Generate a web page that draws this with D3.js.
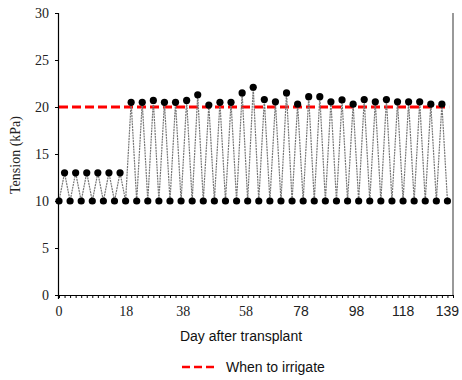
<!DOCTYPE html>
<html><head><meta charset="utf-8">
<script src="https://cdn.jsdelivr.net/npm/d3@7/dist/d3.min.js"></script>
<style>body{margin:0;background:#fff}svg{display:block}</style>
</head><body>
<svg id="c" width="462" height="380"></svg>
<script>
// Data: tension readings (kPa), one per observation (index order)
const tension = [
  10,13,10,13,10,13,10,13,10,13,10,13,10,
  20.5,10,20.5,10,20.7,10,20.5,10,20.5,10,20.7,10,21.3,10,20.2,10,20.5,10,20.5,10,21.5,10,22.1,10,
  20.8,10,20.55,10,21.5,10,20.3,10,21.1,10,21.1,10,20.55,10,20.75,10,20.3,10,20.8,10,20.55,10,20.8,10,20.55,10,20.55,10,20.55,10,20.3,10,20.3,10
];
const threshold = 20;
const xTickPos = [0, 12.1, 22.4, 33.7, 43.6, 53.6, 62, 70];
const xTickLabels = ["0","18","38","58","78","98","118","139"];
const yTicks = [0,5,10,15,20,25,30];
const legendLabel = "When to irrigate";
const xTitle = "Day after transplant";
const yTitle = "Tension (kPa)";

const svg = d3.select("#c");
const m = {l:59, t:13, r:9, b:85};
const W = 462 - m.l - m.r, H = 380 - m.t - m.b;
const g = svg.append("g").attr("transform", `translate(${m.l},${m.t})`);

const x = d3.scaleLinear().domain([0, 71]).range([0, W]);
const y = d3.scaleLinear().domain([0, 30]).range([H, 0]);

// right border
g.append("line").attr("x1", W).attr("x2", W).attr("y1", 0).attr("y2", H)
  .attr("stroke", "#777").attr("stroke-width", 1.5);

// threshold line
g.append("line").attr("x1", x(0)).attr("x2", x(70.3))
  .attr("y1", y(threshold)).attr("y2", y(threshold))
  .attr("stroke", "#ff0000").attr("stroke-width", 3).attr("stroke-dasharray", "9,4");

// zigzag line
const line = d3.line().x((d,i)=>x(i)).y(d=>y(d));
g.append("path").datum(tension).attr("d", line)
  .attr("fill", "none").attr("stroke", "#777").attr("stroke-width", 1.2)
  .attr("stroke-dasharray", "2,0.8");

// points
g.selectAll("circle.pt").data(tension).join("circle")
  .attr("class","pt").attr("cx",(d,i)=>x(i)).attr("cy",d=>y(d)).attr("r",3.6)
  .attr("fill","#000");

// y axis
const yAxis = g.append("g").call(d3.axisLeft(y).tickValues(yTicks).tickSize(4).tickPadding(6));
yAxis.select(".domain").attr("stroke","#000").attr("d", `M-0.5,${H+4}V0`).attr("stroke-width",1.2);
yAxis.selectAll(".tick line").attr("stroke","#000");
yAxis.selectAll("text").attr("font-family","'Liberation Serif', 'DejaVu Serif', serif")
  .attr("font-size",14).attr("fill","#222");

// x axis: minor ticks at every observation
const xAxisG = g.append("g").attr("transform", `translate(0,${H})`)
  .call(d3.axisBottom(x).tickValues(d3.range(0, 72)).tickSize(3).tickFormat(""));
xAxisG.select(".domain").attr("stroke","#000").attr("d", `M0,0.5H${W}`).attr("stroke-width",1.2);
xAxisG.selectAll(".tick line").attr("stroke","#000");

// x tick labels
g.selectAll("text.xl").data(xTickLabels).join("text").attr("class","xl")
  .attr("x",(d,i)=>x(xTickPos[i])).attr("y", H + 21)
  .attr("text-anchor","middle").attr("font-size",14).attr("fill","#222")
  .attr("font-family",(d,i)=> i < 4 ? "'Liberation Serif', serif" : "'Liberation Sans', Arial, sans-serif")
  .text(d=>d);

// axis titles
svg.append("text").attr("x", 241).attr("y", 341).attr("text-anchor","middle")
  .attr("font-family","'Liberation Sans', Arial, sans-serif").attr("font-size",14).attr("fill","#111")
  .text(xTitle);
svg.append("text").attr("transform","translate(20,155) rotate(-90)").attr("text-anchor","middle")
  .attr("font-family","'Liberation Serif', serif").attr("font-size",14).attr("fill","#222")
  .text(yTitle);

// legend
const lg = svg.append("g").attr("transform","translate(182,367)");
lg.append("line").attr("x1",0).attr("x2",32).attr("y1",0).attr("y2",0)
  .attr("stroke","#ff0000").attr("stroke-width",2.5).attr("stroke-dasharray","8,4");
lg.append("text").attr("x",44).attr("y",5).attr("font-family","'Liberation Sans', Arial, sans-serif")
  .attr("font-size",14).attr("fill","#111").text(legendLabel);
</script>
</body></html>
